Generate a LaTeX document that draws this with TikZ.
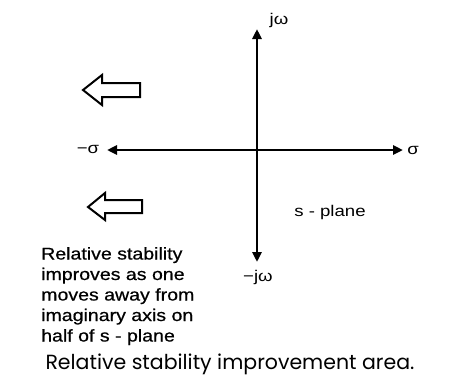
\documentclass[tikz,border=0pt]{standalone}
\usepackage{fontspec}
\setmainfont{Liberation Sans}
\newfontfamily\notefont[FakeStretch=1.15,FakeBold=0.6]{Liberation Sans}
\newfontfamily\labelfont[FakeStretch=1.2]{Liberation Sans}
\newfontfamily\captionfont{Poppins}
\usetikzlibrary{arrows.meta}
\tikzset{
	axis/.style={line width=2.6pt, line cap=butt},
	blockarrow/.style={line width=2pt, line join=miter, fill=white},
	axislabel/.style={font=\labelfont\fontsize{15.5}{18}\selectfont, inner sep=0pt},
}
\begin{document}
\begin{tikzpicture}[x=1pt, y=-1pt, line join=round, >={Triangle[length=10pt,width=9pt]}]
	\useasboundingbox (0,0) rectangle (459,381);
	% s-plane axes
	\coordinate (top) at (257,29);
	\coordinate (bot) at (257,262);
	\coordinate (lft) at (107,150);
	\coordinate (rgt) at (403,150);
	\draw[axis,<->] (bot) -- (top);
	\draw[axis,<->] (lft) -- (rgt);
	\node[axislabel] (jw) at (279,20) {jω};
	\node[axislabel] (mjw) at (258,277) {−jω};
	\node[axislabel] (sig) at (413,150) {σ};
	\node[axislabel] (msig) at (88,149) {−σ};
	\node[axislabel] (splane) at (330,212) {s - plane};
	% direction of improvement
	\draw[blockarrow] (83,90)--(102,75)--(102,83)--(140,83)--(140,97)--(102,97)--(102,105)--cycle;
	\draw[blockarrow] (88,207)--(105,193)--(105,200)--(142,200)--(142,213)--(105,213)--(105,220)--cycle;
	\node[anchor=north west, align=left, inner sep=0pt, font=\notefont\fontsize{17}{20.5}\selectfont] (note) at (41,247)
		{Relative stability\\improves as one\\moves away from\\imaginary axis on\\half of s - plane};
	\node[font=\captionfont\fontsize{20.5}{24}\selectfont, inner sep=0pt] (caption) at (230,364) {Relative stability improvement area.};
\end{tikzpicture}
\end{document}
